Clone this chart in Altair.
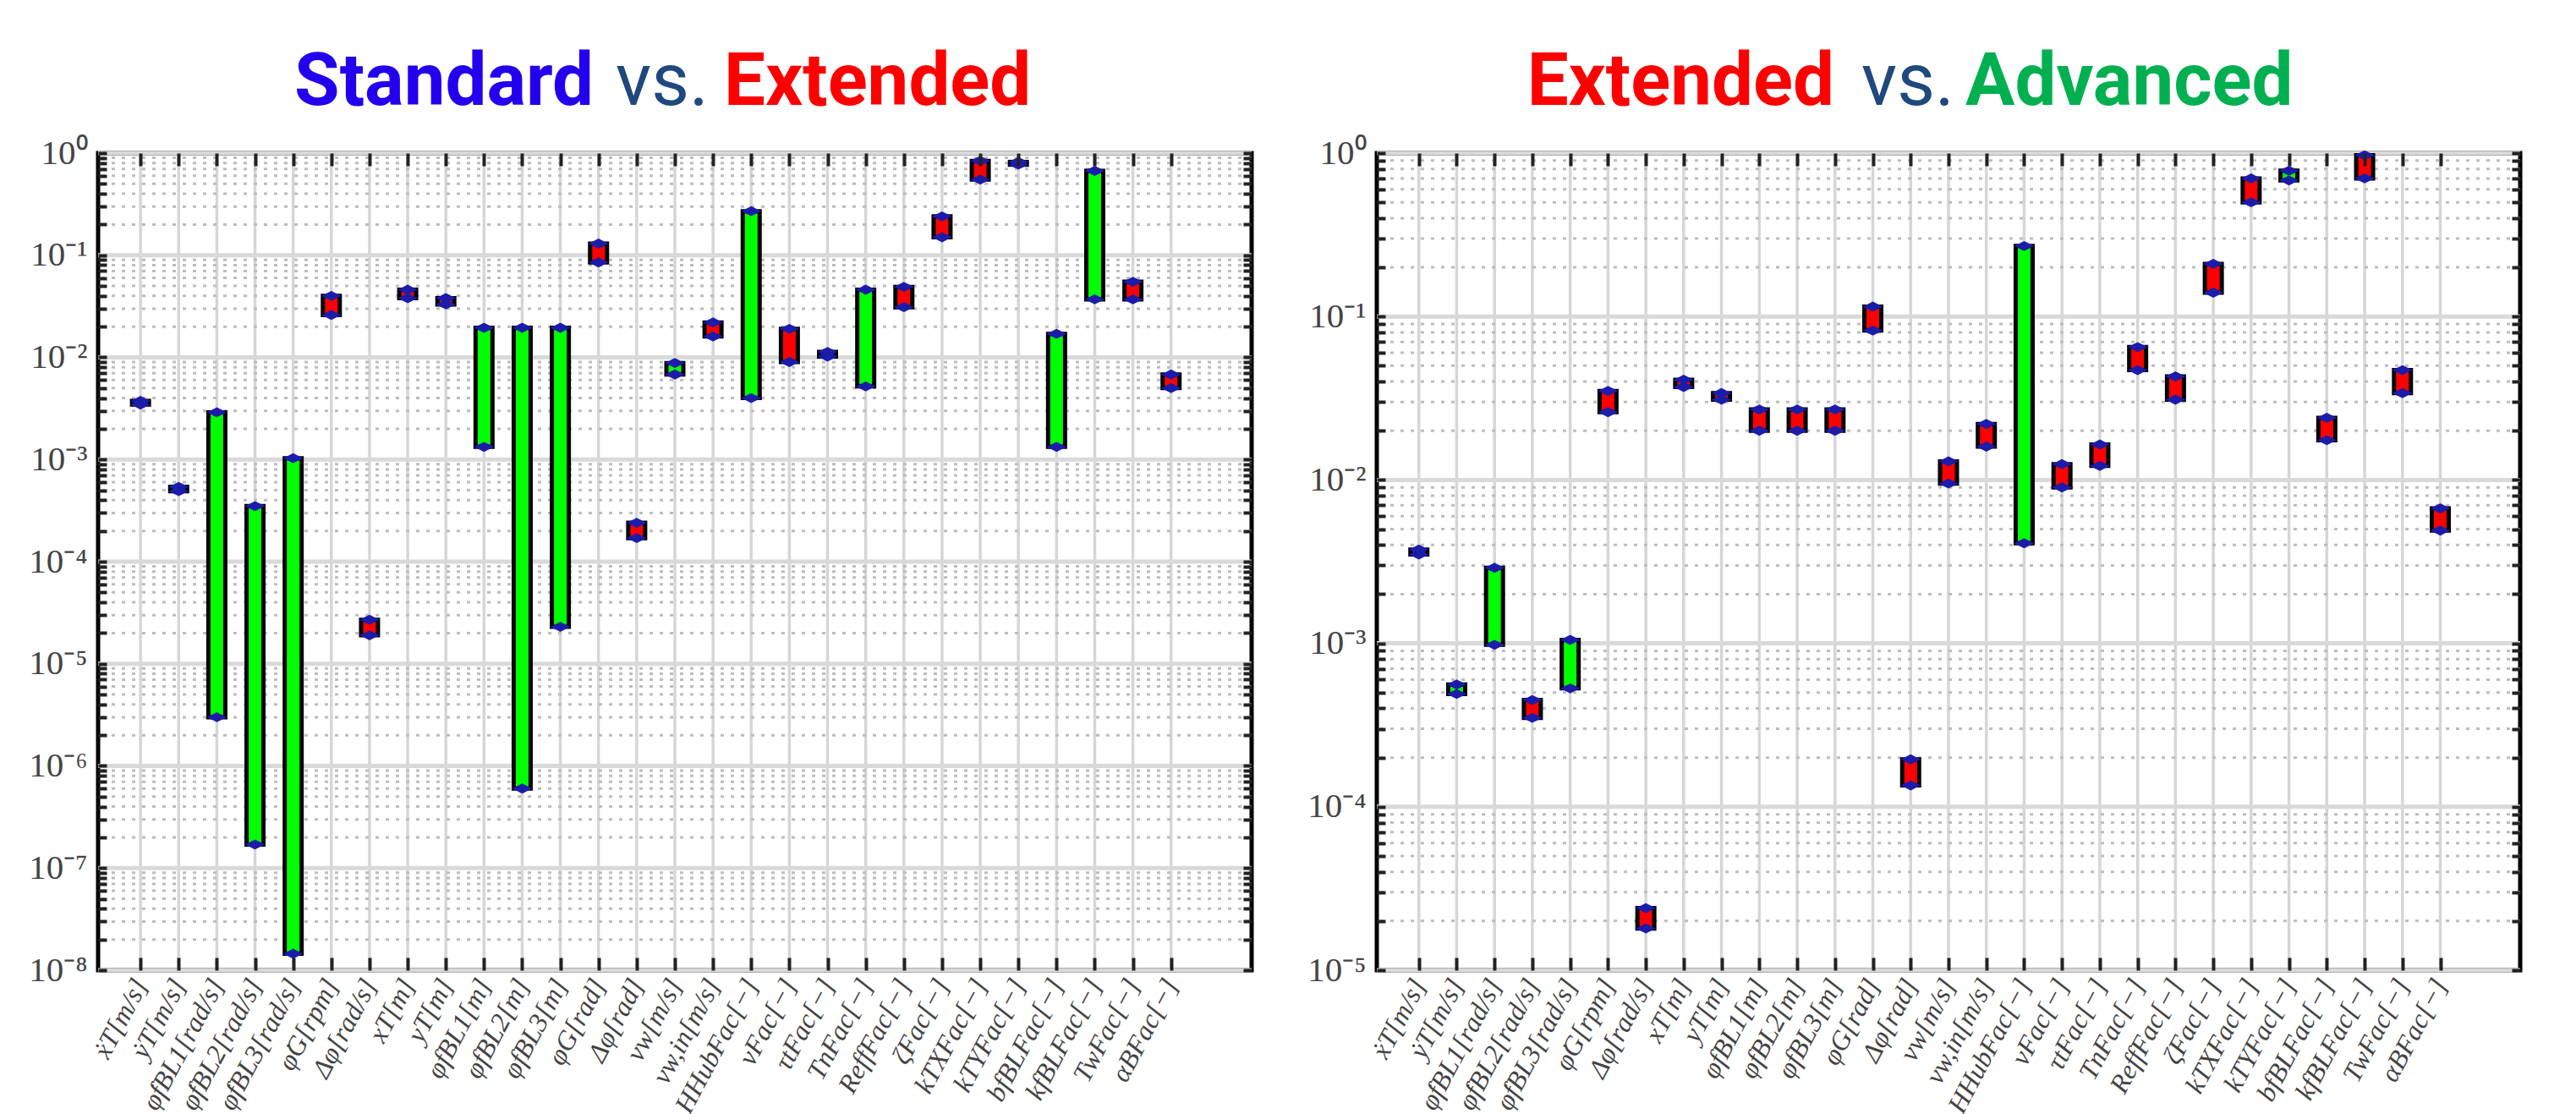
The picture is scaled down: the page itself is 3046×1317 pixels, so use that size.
import json
import altair as alt
import pandas as pd

# Parameter names (x axis), one per category position 1..28
names = [
    "ẋT[m/s]", "ẏT[m/s]", "φ̇fBL1[rad/s]", "φ̇fBL2[rad/s]", "φ̇fBL3[rad/s]",
    "φ̇G[rpm]", "Δφ̇[rad/s]", "xT[m]", "yT[m]", "φfBL1[m]", "φfBL2[m]",
    "φfBL3[m]", "φG[rad]", "Δφ[rad]", "vw[m/s]", "vw,in[m/s]", "HHubFac[−]",
    "νFac[−]", "τtFac[−]", "TnFac[−]", "ReffFac[−]", "ζFac[−]", "kTXFac[−]",
    "kTYFac[−]", "bfBLFac[−]", "kfBLFac[−]", "TwFac[−]", "αBFac[−]",
]
cats = list(range(1, len(names) + 1))

# Standard vs. Extended: lower / upper bound of each interval, fill code
std_lo = [3.45e-3, 4.9e-4, 3.0e-6, 1.7e-7, 1.45e-8, 0.026, 1.9e-5, 0.038, 0.033,
          1.33e-3, 6e-7, 2.3e-5, 0.085, 1.7e-4, 6.8e-3, 0.016, 4e-3, 9e-3,
          0.0102, 5.2e-3, 0.031, 0.15, 0.55, 0.77, 1.33e-3, 0.037, 0.037, 5e-3]
std_hi = [3.75e-3, 5.4e-4, 2.9e-3, 3.5e-4, 1.03e-3, 0.040, 2.7e-5, 0.046, 0.038,
          0.0195, 0.0195, 0.0195, 0.13, 2.4e-4, 8.8e-3, 0.022, 0.27, 0.019,
          0.0113, 0.046, 0.049, 0.24, 0.84, 0.82, 0.017, 0.67, 0.055, 6.8e-3]
std_fill = ["r", "r", "g", "g", "g", "r", "r", "r", "r", "g", "g", "g", "r", "r",
            "g", "r", "g", "r", "r", "g", "r", "r", "r", "r", "g", "g", "r", "r"]

# Extended vs. Advanced
adv_lo = [3.5e-3, 4.9e-4, 9.8e-4, 3.5e-4, 5.3e-4, 0.026, 1.8e-5, 0.037, 0.031,
          0.02, 0.02, 0.02, 0.082, 1.35e-4, 9.5e-3, 0.016, 4.1e-3, 9e-3,
          0.0122, 0.047, 0.031, 0.14, 0.5, 0.68, 0.0175, 0.7, 0.034, 4.9e-3]
adv_hi = [3.75e-3, 5.6e-4, 2.9e-3, 4.5e-4, 1.05e-3, 0.035, 2.4e-5, 0.041, 0.034,
          0.027, 0.027, 0.027, 0.115, 1.95e-4, 0.013, 0.022, 0.27, 0.0125,
          0.0165, 0.065, 0.043, 0.21, 0.7, 0.78, 0.024, 0.97, 0.047, 6.7e-3]
adv_fill = ["r", "g", "g", "r", "g", "r", "r", "r", "r", "r", "r", "r", "r", "r",
            "r", "r", "g", "r", "r", "r", "r", "r", "r", "g", "r", "r", "r", "r"]

FILLS = {"r": "#ff0000", "g": "#00ff00"}
BLUE = "#1c1caa"

# Title pieces: (text, colour, weight)
left_title = [("Standard", "#2200ee", "bold"), ("vs.", "#1f497d", "normal"),
              ("Extended", "#ff0000", "bold")]
right_title = [("Extended", "#ff0000", "bold"), ("vs.", "#1f497d", "normal"),
               ("Advanced", "#00b050", "bold")]

SUP = {"0": "⁰", "1": "¹", "2": "²", "3": "³", "4": "⁴", "5": "⁵",
       "6": "⁶", "7": "⁷", "8": "⁸", "9": "⁹", "-": "⁻"}


def sup(e):
    return "10" + "".join(SUP[c] for c in str(e))


def panel(lo, hi, fill, min_exp, title, width, title_x):
    df = pd.DataFrame({"cat": cats, "lo": lo, "hi": hi,
                       "fill": [FILLS[f] for f in fill]})
    ends = df.melt(id_vars=["cat"], value_vars=["lo", "hi"], value_name="v")
    majors = [10.0 ** e for e in range(min_exp, 1)]
    minors = [m * 10.0 ** e for e in range(min_exp, 0) for m in range(2, 10)]
    dec_labels = json.dumps([sup(-k) for k in range(0, -min_exp + 1)],
                            ensure_ascii=False)
    ylab = ("abs(log(datum.value)/LN10 - round(log(datum.value)/LN10)) < 1e-6 ? "
            f"{dec_labels}[-round(log(datum.value)/LN10)] : ''")

    xs = alt.Scale(domain=[0, 30], nice=False, zero=False)
    ys = alt.Scale(type="log", domain=[10.0 ** min_exp, 1], nice=False)

    tick_common = dict(tickColor="#222222", tickWidth=4, domain=False, grid=False,
                       zindex=1, title=None)

    vgrid = alt.Chart(pd.DataFrame({"cat": cats})).mark_rule(
        color="#d6d6d6", strokeWidth=3.5
    ).encode(
        x=alt.X("cat:Q", scale=xs, axis=alt.Axis(
            orient="bottom", values=cats,
            labelExpr=f"{json.dumps(names, ensure_ascii=False)}[datum.value - 1]",
            labelAngle=-62, labelFont="Liberation Serif", labelFontStyle="italic",
            labelFontSize=32, labelColor="#444444", labelPadding=12,
            labelLimit=400, labelOverlap=False, labelBound=False, tickSize=15,
            offset=-15, **tick_common))
    )

    minor_grid = alt.Chart(pd.DataFrame({"v": minors})).mark_rule(
        color="#bdbdbd", strokeWidth=3, strokeDash=[4, 8]
    ).encode(
        y=alt.Y("v:Q", scale=ys, axis=alt.Axis(
            orient="left", values=majors + minors, labelExpr=ylab,
            labelFont="Liberation Serif", labelFontSize=41, labelColor="#444444",
            labelPadding=13, labelOverlap=False, tickSize=10, offset=-10,
            minExtent=100, maxExtent=100, **tick_common))
    )

    major_grid = alt.Chart(pd.DataFrame({"v": majors})).mark_rule(
        color="#d9d9d9", strokeWidth=5
    ).encode(y=alt.Y("v:Q", scale=ys, axis=None))

    bars = alt.Chart(df).mark_bar(size=20, stroke="black", strokeWidth=5).encode(
        x=alt.X("cat:Q", scale=xs, axis=alt.Axis(
            orient="top", values=cats, labels=False, tickSize=15, offset=-15,
            minExtent=0, maxExtent=0, **tick_common)),
        y=alt.Y("lo:Q", scale=ys, axis=alt.Axis(
            orient="right", values=majors + minors, labels=False, tickSize=10,
            offset=-10, minExtent=0, maxExtent=0, **tick_common)),
        y2="hi:Q",
        fill=alt.Fill("fill:N", scale=None),
    )

    marks = alt.Chart(ends).mark_point(
        shape="M -1 0 L 0 -0.5 L 1 0 L 0 0.5 Z", filled=True, color=BLUE,
        opacity=1, size=560
    ).encode(
        x=alt.X("cat:Q", scale=xs, axis=None),
        y=alt.Y("v:Q", scale=ys, axis=None),
    )

    aligns = ["right", "left", "left"]
    words = []
    for (txt, col, wt), xpos, al in zip(title, title_x, aligns):
        words.append(
            alt.Chart(pd.DataFrame({"t": [txt]})).mark_text(
                font="Roboto", fontSize=87, fontWeight=wt, color=col,
                align=al, baseline="alphabetic"
            ).encode(text="t:N", x=alt.value(xpos), y=alt.value(-57))
        )

    return alt.layer(vgrid, minor_grid, major_grid, bars, marks, *words).resolve_scale(
        x="shared", y="shared"
    ).resolve_axis(x="independent", y="independent").properties(
        width=width, height=966
    )


left = panel(std_lo, std_hi, std_fill, -8, left_title, 1364, [586, 612, 740])
right = panel(adv_lo, adv_hi, adv_fill, -5, right_title, 1352, [541, 573, 696])

chart = alt.hconcat(left, right, spacing=50).configure_view(
    stroke="black", strokeWidth=5
).properties(
    padding={"left": 23, "top": 51, "right": 10, "bottom": 5},
    background="white",
)

chart.save("out.html", embed_options={"renderer": "svg", "actions": False})
